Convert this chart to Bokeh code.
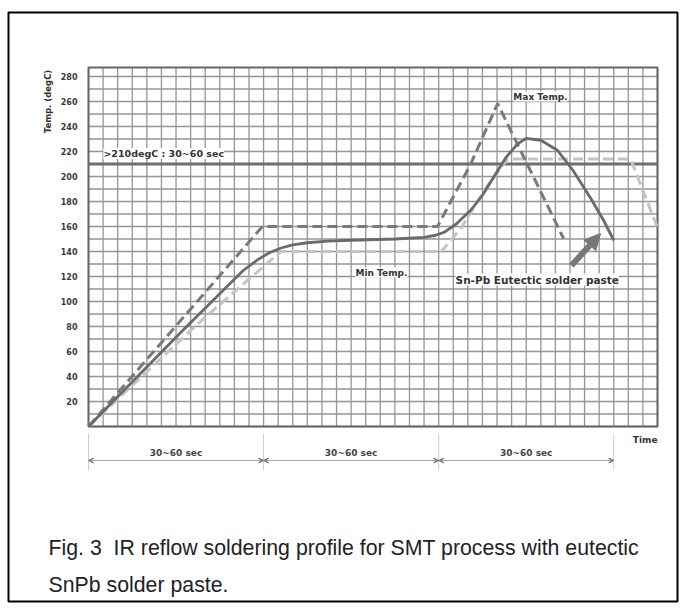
import math
from bokeh.plotting import figure
from bokeh.models import Range1d, FixedTicker, Label, Arrow, NormalHead, VeeHead, LinearAxis
from bokeh.embed import file_html
from bokeh.resources import INLINE

# ---- data ----
y_ticks = [20, 40, 60, 80, 100, 120, 140, 160, 180, 200, 220, 240, 260, 280]
x_grid = list(range(0, 200, 5))
y_grid = list(range(0, 290, 10))
x_max, y_top = 195, 287.2

zone_edges = [0, 60, 120, 180]
zone_labels = ["30~60 sec", "30~60 sec", "30~60 sec"]

melt_level = 210
melt_label = ">210degC : 30~60 sec"

solid_x = [0, 31.5, 53, 58, 62, 66, 70, 75, 82, 90, 105, 115, 119, 122, 126, 131, 135, 139, 143, 147, 150, 155, 160.7, 166, 172, 176.5, 180]
solid_y = [0, 75, 124.8, 133.5, 139, 142.8, 145.3, 147, 148.3, 149, 150, 151.3, 153, 155.5, 162, 173, 185, 200, 215, 226, 230.5, 229, 221, 205, 183, 165, 149]

max_x = [0, 59.6, 119.6, 131, 140.2, 162.8]
max_y = [0, 160, 160, 210, 258.4, 150.4]

min_x = [0, 37.4, 55, 66, 121, 128, 136, 143.6, 185.8, 195]
min_y = [0, 82, 118, 140, 140, 160, 190, 214, 214, 159]

arrow_from = (165.5, 128.8)
arrow_to = (175.5, 154.4)

caption = ["Fig. 3\u00a0 IR reflow soldering profile for SMT process with eutectic",
           "SnPb solder paste."]

# ---- figure (frame spans the whole canvas; y axis fixed at x=0) ----
W, H = 680, 605
sx, sy = 2.918, 1.25          # px per data unit
ox, oy = 88, 426              # pixel position of data origin
p = figure(width=W, height=H, output_backend="svg", toolbar_location=None,
           x_range=Range1d(-ox / sx, (W - ox) / sx),
           y_range=Range1d((oy - H) / sy, oy / sy),
           x_axis_location=None, y_axis_location=None,
           min_border=0)
p.outline_line_color = None
p.xgrid.visible = False
p.ygrid.visible = False
p.background_fill_color = "white"
p.border_fill_color = "white"

ax = LinearAxis(fixed_location=0)
ax.ticker = FixedTicker(ticks=y_ticks)
ax.axis_line_color = None
ax.major_tick_line_color = None
ax.minor_tick_line_color = None
ax.major_label_standoff = 5
ax.major_label_text_font = "DejaVu Sans"
ax.major_label_text_font_style = "bold"
ax.major_label_text_font_size = "8px"
ax.major_label_text_color = "#3a3a3a"
p.add_layout(ax, "left")

# outer border of the figure box
p.quad(left=[(8 - ox) / sx], right=[(677 - ox) / sx], top=[(oy - 12) / sy], bottom=[(oy - 601) / sy],
       fill_color=None, line_color="black", line_width=2)

grid_col = "#959595"
p.segment(x0=[0] * len(y_grid), x1=[x_max] * len(y_grid), y0=y_grid, y1=y_grid,
          line_color=grid_col, line_width=1.3)
p.segment(x0=x_grid, x1=x_grid, y0=[0] * len(x_grid), y1=[y_top] * len(x_grid),
          line_color=grid_col, line_width=1.3)
p.quad(left=[0], right=[x_max], bottom=[0], top=[y_top], fill_color=None,
       line_color="#666666", line_width=2)

p.line([0, x_max], [melt_level, melt_level], line_color="#6e6e6e", line_width=3)

p.line(min_x, min_y, line_color="#c4c4c4", line_width=3, line_dash="10 5")
p.line(max_x, max_y, line_color="#7a7a7a", line_width=3, line_dash="10 5")
p.line(solid_x, solid_y, line_color="#6a6a6a", line_width=2.8)

p.add_layout(Arrow(end=NormalHead(size=16, fill_color="#777777", line_color="#777777"),
                   x_start=arrow_from[0], y_start=arrow_from[1],
                   x_end=arrow_to[0], y_end=arrow_to[1],
                   line_color="#777777", line_width=6))

def lab(x, y, text, size="9px", align="left", bold=True, bg="white", color="#333333",
        angle=0.0, font="DejaVu Sans", baseline="middle"):
    p.add_layout(Label(x=x, y=y, text=text, text_font=font,
                       text_font_size=size, text_font_style="bold" if bold else "normal",
                       text_align=align, text_baseline=baseline, text_color=color,
                       background_fill_color=bg, angle=angle))

lab(5.1, 218.4, melt_label, size="9.5px")
lab(145.6, 264, "Max Temp.")
lab(91.5, 123.2, "Min Temp.")
lab(125.8, 117.6, "Sn-Pb Eutectic solder paste", size="10.5px")
lab(x_max, -10.4, "Time", align="right", bg=None)
lab((47 - ox) / sx, (oy - 101) / sy, "Temp. (degC)", size="8.5px", align="center", bg=None,
    angle=math.pi / 2)

p.segment(x0=zone_edges, x1=zone_edges, y0=[-5.6] * 4, y1=[-35.2] * 4,
          line_color="#cccccc", line_width=1)
for i in range(3):
    p.add_layout(Arrow(start=VeeHead(size=5, line_color="#777777", fill_color="#777777"),
                       end=VeeHead(size=5, line_color="#777777", fill_color="#777777"),
                       x_start=zone_edges[i], x_end=zone_edges[i + 1], y_start=-27.2, y_end=-27.2,
                       line_color="#aaaaaa", line_width=1))
    lab((zone_edges[i] + zone_edges[i + 1]) / 2, -20.8, zone_labels[i], size="9px",
        align="center", bg=None, color="#444444")

lab((48 - ox) / sx, (oy - 547) / sy, caption[0], size="21.3px", bold=False, bg=None,
    color="#222222", font="Liberation Sans", baseline="alphabetic")
lab((48 - ox) / sx, (oy - 584) / sy, caption[1], size="21.3px", bold=False, bg=None,
    color="#222222", font="Liberation Sans", baseline="alphabetic")

open("out.html", "w").write(file_html(p, INLINE))
